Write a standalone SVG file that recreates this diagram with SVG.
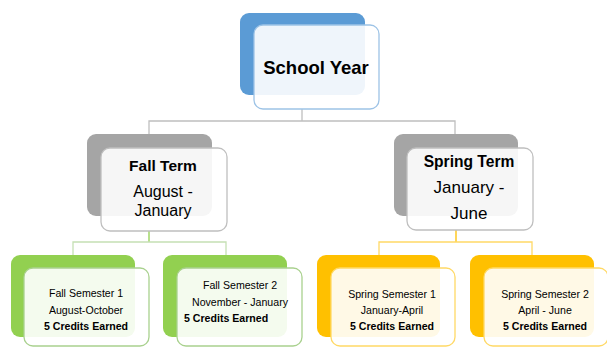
<svg xmlns="http://www.w3.org/2000/svg" width="607" height="348" viewBox="0 0 607 348">
<style>
.front{fill:#ffffff;fill-opacity:0.9;stroke-width:1.3}
.t{font-family:"Liberation Sans",Arial,sans-serif;fill:#000;text-anchor:middle}
.b{font-weight:bold}
.s{font-size:10.6px}
.line{fill:none;stroke-width:1.3}
</style>
<rect width="607" height="348" fill="#ffffff"/>
<g id="connectors">
<path class="line" stroke="#BFBFBF" d="M302,109 V121 M149,134 V121 H455 V134"/>
<path class="line" stroke="#92D050" d="M149,231 V242"/>
<path class="line" stroke="#C5E0B4" d="M73,255 V242 H226 V255"/>
<path class="line" stroke="#FFC000" d="M456,230 V242"/>
<path class="line" stroke="#FFD966" d="M379,255 V242 H532 V255"/>
</g>
<g id="school-year">
<rect x="240" y="13" width="125" height="82" rx="9" fill="#5B9BD5"/>
<rect class="front" x="254" y="25" width="125" height="84" rx="9" stroke="#9DC3E6"/>
<text class="t b" x="316" y="74" font-size="18.5px">School Year</text>
</g>
<g id="fall-term">
<rect x="87" y="134" width="125" height="82" rx="9" fill="#A5A5A5"/>
<rect class="front" x="101" y="148" width="126" height="83" rx="9" stroke="#BFBFBF"/>
<text class="t b" x="163" y="171" font-size="15.5px">Fall Term</text>
<text class="t" x="163" y="197" font-size="16px">August -</text>
<text class="t" x="163" y="216" font-size="16px">January</text>
</g>
<g id="spring-term">
<rect x="394" y="134" width="124" height="82" rx="9" fill="#A5A5A5"/>
<rect class="front" x="407" y="148" width="126" height="82" rx="9" stroke="#BFBFBF"/>
<text class="t b" x="469" y="167" font-size="15.6px">Spring Term</text>
<text class="t" x="469" y="193" font-size="17px">January -</text>
<text class="t" x="469" y="219" font-size="17px">June</text>
</g>
<g id="fall-sem-1">
<rect x="11" y="255" width="124" height="82" rx="9" fill="#92D050"/>
<rect class="front" x="24" y="268" width="125" height="78" rx="9" stroke="#A9D18E"/>
<text class="t s" x="86" y="297">Fall Semester 1</text>
<text class="t s" x="86" y="314">August-October</text>
<text class="t s b" x="86" y="330">5 Credits Earned</text>
</g>
<g id="fall-sem-2">
<rect x="163" y="255" width="124" height="82" rx="9" fill="#92D050"/>
<rect class="front" x="177" y="268" width="125" height="78" rx="9" stroke="#A9D18E"/>
<text class="t s" x="240" y="289">Fall Semester 2</text>
<text class="t s" x="240" y="306">November - January</text>
<text class="t s b" x="184" y="322" style="text-anchor:start">5 Credits Earned</text>
</g>
<g id="spring-sem-1">
<rect x="317" y="255" width="123" height="82" rx="9" fill="#FFC000"/>
<rect class="front" x="331" y="268" width="124" height="78" rx="9" stroke="#FFD966"/>
<text class="t s" x="392" y="298">Spring Semester 1</text>
<text class="t s" x="392" y="314">January-April</text>
<text class="t s b" x="392" y="330">5 Credits Earned</text>
</g>
<g id="spring-sem-2">
<rect x="470" y="255" width="124" height="82" rx="9" fill="#FFC000"/>
<rect class="front" x="484" y="268" width="124" height="78" rx="9" stroke="#FFD966"/>
<text class="t s" x="545" y="298">Spring Semester 2</text>
<text class="t s" x="545" y="314">April - June</text>
<text class="t s b" x="545" y="330">5 Credits Earned</text>
</g>
</svg>
